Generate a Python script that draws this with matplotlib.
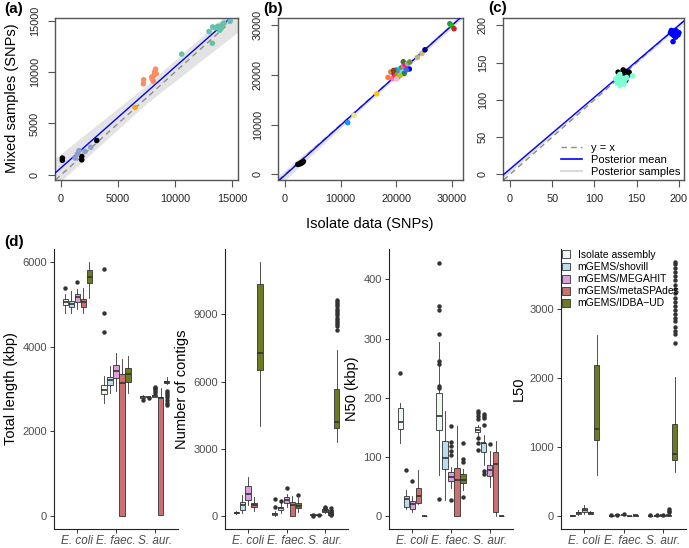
import numpy as np
import matplotlib as mpl
import matplotlib.pyplot as plt
from matplotlib.patches import Patch
from matplotlib.lines import Line2D

plt.rcParams['font.family'] = ['Liberation Sans', 'DejaVu Sans']

# ---------------------------------------------------------------------------
# Top row data: isolate vs mixed-sample SNP counts
# ---------------------------------------------------------------------------
a_x = [117, 117, 1815, 1815, 3130,
       1230, 1430, 1570, 2100, 2600,
       7220, 7250, 7950, 8100, 8150, 8200, 8290, 8350, 8000,
       6490,
       10580, 12980, 13270, 13300, 13550, 13750, 14000, 14150, 14300, 14820, 13900]
a_y = [1640, 1420, 1800, 1470, 3350,
       1640, 2030, 2360, 2290, 2690,
       8860, 9250, 9510, 9080, 9680, 10010, 10280, 9840, 9300,
       6560,
       11740, 13940, 12790, 14380, 14300, 14450, 14200, 14600, 14750, 14930, 14050]
a_col = ['black'] * 5 + ['#8DA0CB'] * 5 + ['#FC8D62'] * 9 + ['#FFA500'] + ['#66C2A5'] * 11

b_x = [2300, 2600, 2900, 3100, 3300, 2800, 3200,
       11250, 12390, 16460,
       18500, 19000, 19300, 19600, 19800, 20000, 20200, 20300, 20500, 20700, 20800, 21000,
       21100, 21300, 21400, 21600, 21240, 22000, 22400, 22320, 19500, 20000, 20600, 21800,
       23760, 24600, 25130, 29600, 29900, 30350]
b_y = [2000, 2100, 2200, 2400, 2600, 2300, 2500,
       10400, 11860, 16200,
       19500, 20600, 19300, 20200, 19800, 21000, 20400, 19600, 20800, 21300, 20000, 21500,
       20600, 21800, 20300, 22000, 22660, 22300, 22600, 21200, 20900, 19200, 19900, 21000,
       23520, 24320, 25060, 30300, 29900, 29300]
b_col = ['black'] * 7 + ['#1E90FF', '#EEE685', '#FFC125',
         '#FF7F24', '#CD853F', '#FF69B4', '#9400D3', '#FF4500', '#1E90FF', '#32CD32', '#FF6347',
         '#BA55D3', '#00CED1', '#FFA07A', '#6B8E23', '#87CEFA', '#DA70D6', '#228B22', '#FF1493',
         '#556B2F', '#8FBC8F', '#6E8B3D', '#0000FF', '#8B4513', '#FFB6C1', '#9ACD32', '#4169E1',
         '#BDB76B', '#CDBE70', '#00008B', '#2E8B57', '#00CD00', '#CD2626']

c_x = [128, 131, 133, 134, 136, 137, 138, 140, 141, 135,
       125, 127, 128, 129, 130, 131, 132, 133, 135, 136, 138, 145, 130,
       190, 192, 193, 194, 195, 196, 197, 198, 199, 200, 193, 196, 191]
c_y = [137, 132, 128, 140, 135, 126, 138, 133, 137, 131,
       128, 122, 131, 125, 119, 127, 123, 129, 121, 126, 130, 132, 134,
       190, 188, 192, 186, 190, 193, 188, 191, 187, 190, 178, 184, 193]
c_col = ['black'] * 10 + ['#7FFFD4'] * 13 + ['#0000FF'] * 13

# posterior mean (intercept, slope) and posterior-sample envelope
a_mean = (700, 0.98)
b_mean = (-150, 1.005)
c_mean = (7, 0.965)
a_band_x, a_band_lo, a_band_hi = [-530, 7500, 15520], [-1100, 6950, 13900], [1600, 8700, 16600]
b_band_x, b_band_lo, b_band_hi = [-1260, 15000, 31960], [-2500, 14550, 31400], [-300, 15150, 32700]
c_band_x, c_band_lo, c_band_hi = [-8.3, 100, 206], [-5, 102, 202], [3, 105, 209]

# ---------------------------------------------------------------------------
# Bottom row data: assembly statistics, (whislo, q1, med, q3, whishi) per species
# ---------------------------------------------------------------------------
species = ['E. coli', 'E. faec.', 'S. aur.']
methods = ['Isolate assembly', 'mGEMS/shovill', 'mGEMS/MEGAHIT', 'mGEMS/metaSPAdes', 'mGEMS/IDBA\u2212UD']
method_colors = ['#EEF8F0', '#B9DDEE', '#D9A0DB', '#CC6F6F', '#6B7A23']

length_box = [
    [(4800, 4990, 5060, 5130, 5250), (2680, 2880, 2980, 3090, 3300), (2760, 2790, 2810, 2830, 2850)],
    [(4780, 4940, 5010, 5080, 5300), (2900, 3090, 3210, 3290, 3550), (2790, 2800, 2810, 2820, 2830)],
    [(4880, 5050, 5170, 5250, 5350), (2950, 3250, 3430, 3560, 3850), (2800, 2810, 2830, 2850, 2880)],
    [(4800, 4940, 5050, 5120, 5380), (0, 10, 3150, 3360, 3700), (30, 40, 2790, 2810, 3030)],
    [(5150, 5510, 5640, 5810, 6000), (2900, 3170, 3350, 3500, 3780), (3120, 3140, 3170, 3200, 3280)],
]
length_out = [
    [[5380], [4350, 4800, 5840], [2740]],
    [[], [], [2780]],
    [[5520], [], [2900, 2950, 3000, 3030, 3050]],
    [[], [], []],
    [[], [], [2620, 2680, 2740, 2800, 2850, 2900, 2950]],
]

contig_box = [
    [(100, 140, 160, 180, 220), (30, 60, 100, 150, 250), (40, 50, 60, 70, 80)],
    [(130, 300, 500, 645, 935), (150, 280, 350, 430, 690), (40, 50, 60, 70, 90)],
    [(500, 715, 980, 1330, 1740), (400, 600, 747, 865, 1000), (150, 200, 250, 320, 380)],
    [(250, 395, 500, 600, 850), (0, 10, 500, 645, 900), (20, 60, 150, 300, 380)],
    [(4010, 6500, 7260, 10330, 11330), (200, 350, 470, 600, 800), (3310, 3950, 4210, 5650, 7410)],
]
contig_out = [
    [[], [420, 790], [30, 60]],
    [[], [700], [40]],
    [[], [1270], [350, 380, 420]],
    [[], [], [50, 100, 200, 350]],
    [[], [950], [8300, 8450, 8550, 8650, 8750, 8850, 8950, 9050, 9150, 9250, 9350, 9450, 9550, 9650]],
]

n50_box = [
    [(123, 148, 160, 183, 191), (70, 146, 170, 209, 295), (135, 142, 146, 150, 155)],
    [(13, 15, 30, 35, 44), (27, 80, 98, 127, 178), (86, 108, 123, 124.5, 138)],
    [(8, 12, 21, 25.5, 35), (48, 60, 66, 74.5, 84), (50, 68, 79, 87, 110)],
    [(20, 23, 35, 48, 79), (0, 0.5, 61, 82, 152), (0, 8, 89, 108, 127)],
    [(0.3, 0.8, 1, 1.3, 2), (45, 56, 62, 71, 80), (0.3, 0.8, 1, 1.3, 2)],
]
n50_out = [
    [[242], [30, 217, 220, 258, 263, 308, 348, 355, 428], [112, 124, 132, 165, 170, 175, 178]],
    [[79], [], [72, 76, 155, 166, 170, 173]],
    [[59], [27, 103, 111, 119, 125, 152], [122]],
    [[], [], []],
    [[], [33, 92, 97, 124], []],
]

l50_box = [
    [(5, 8, 10, 12, 15), (5, 8, 10, 12, 15), (3, 5, 7, 9, 12)],
    [(20, 35, 45, 60, 90), (10, 12, 15, 18, 22), (5, 8, 10, 12, 15)],
    [(40, 67, 86, 124, 170), (15, 18, 20, 23, 27), (8, 10, 12, 15, 20)],
    [(30, 40, 50, 60, 75), (3, 4, 5, 6, 8), (5, 8, 12, 20, 40)],
    [(605, 1100, 1271, 2186, 2624), (8, 10, 12, 14, 16), (648, 814, 900, 1343, 2019)],
]
l50_out = [
    [[], [20], [15]],
    [[], [25], [20]],
    [[], [30], [25]],
    [[], [], [60, 80, 100]],
    [[], [], [2505, 2640, 2690, 2740, 2830, 2880, 2930, 2990, 3050, 3110, 3170, 3230,
              3290, 3350, 3420, 3480, 3540, 3600, 3650, 3690]],
]

# ---------------------------------------------------------------------------
# Figure
# ---------------------------------------------------------------------------
W, H = 689, 548
fig = plt.figure(figsize=(W / 100, H / 100), dpi=100)


def px_axes(left, right, top, bottom):
    return fig.add_axes([left / W, 1 - bottom / H, (right - left) / W, (bottom - top) / H])


def r_style(ax, xlim, ylim, xticks, yticks):
    ax.set_xlim(xlim)
    ax.set_ylim(ylim)
    ax.set_xticks(xticks)
    ax.set_yticks(yticks)
    for sp in ax.spines.values():
        sp.set_color('#555555')
        sp.set_linewidth(1.0)
    ax.tick_params(direction='out', length=5, width=0.8, color='#555555', labelsize=7.8,
                   pad=5, labelcolor='#222222')
    ax.tick_params(axis='y', labelrotation=90, pad=6)
    for lab in ax.get_yticklabels():
        lab.set_va('center')


def scatter_panel(ax, x, y, col, mean, bx, blo, bhi):
    ax.fill_between(bx, blo, bhi, color='#E3E3E3', lw=0, zorder=1)
    ax.axline((0, 0), slope=1, ls=(0, (4, 3)), color='#8C8C8C', lw=1, zorder=2)
    ax.axline((0, mean[0]), slope=mean[1], color='#0000FF', lw=1, zorder=3)
    ax.scatter(x, y, c=col, s=16, edgecolors='none', zorder=4)


ax_a = px_axes(55, 238, 18, 180)
scatter_panel(ax_a, a_x, a_y, a_col, a_mean, a_band_x, a_band_lo, a_band_hi)
r_style(ax_a, (-530, 15520), (-490, 15250), [0, 5000, 10000, 15000], [0, 5000, 10000, 15000])

ax_b = px_axes(278, 463, 18, 180)
scatter_panel(ax_b, b_x, b_y, b_col, b_mean, b_band_x, b_band_lo, b_band_hi)
r_style(ax_b, (-1260, 31960), (-1140, 31460), [0, 10000, 20000, 30000], [0, 10000, 20000, 30000])

ax_c = px_axes(503, 684, 18, 180)
scatter_panel(ax_c, c_x, c_y, c_col, c_mean, c_band_x, c_band_lo, c_band_hi)
r_style(ax_c, (-8.3, 206), (-7.6, 209.7), [0, 50, 100, 150, 200], [0, 50, 100, 150, 200])
leg_handles = [Line2D([], [], ls=(0, (4, 3)), color='#8C8C8C', lw=1),
               Line2D([], [], color='#0000FF', lw=1.2),
               Line2D([], [], color='#D9D9D9', lw=1.5)]
ax_c.legend(leg_handles, ['y = x', 'Posterior mean', 'Posterior samples'], loc='lower right',
            frameon=False, fontsize=8, handlelength=1.9, handletextpad=0.8, labelspacing=0.15,
            borderaxespad=0.1, borderpad=0.2)

fig.text(12 / W, 1 - 98 / H, 'Mixed samples (SNPs)', rotation=90, ha='center', va='center', fontsize=10.5)
fig.text(370 / W, 1 - 224 / H, 'Isolate data (SNPs)', ha='center', va='center', fontsize=10.5)
fig.text(4 / W, 1 - 9 / H, '(a)', ha='left', va='center', fontsize=11, fontweight='bold')
fig.text(263 / W, 1 - 9 / H, '(b)', ha='left', va='center', fontsize=11, fontweight='bold')
fig.text(488 / W, 1 - 8 / H, '(c)', ha='left', va='center', fontsize=11, fontweight='bold')
fig.text(4 / W, 1 - 242 / H, '(d)', ha='left', va='center', fontsize=11, fontweight='bold')

# ---------------------------------------------------------------------------
# Bottom row boxplots
# ---------------------------------------------------------------------------
offsets = [-0.31, -0.155, 0, 0.155, 0.31]
edge = '#333333'


def box_panel(ax, boxes, outs, ylim, yticks, ylabel):
    for m in range(len(methods)):
        stats = []
        for s in range(len(species)):
            lo, q1, med, q3, hi = boxes[m][s]
            stats.append(dict(whislo=lo, q1=q1, med=med, q3=q3, whishi=hi, fliers=outs[m][s]))
        pos = [s + 1 + offsets[m] for s in range(len(species))]
        ax.bxp(stats, positions=pos, widths=0.135, patch_artist=True, showcaps=False,
               manage_ticks=False,
               boxprops=dict(facecolor=method_colors[m], edgecolor=edge, lw=0.6),
               whiskerprops=dict(color=edge, lw=0.6),
               medianprops=dict(color=edge, lw=1.2),
               flierprops=dict(marker='o', markerfacecolor=edge, markeredgecolor='none', markersize=3.2))
    ax.set_xlim(0.4, 3.6)
    ax.set_ylim(ylim)
    ax.set_yticks(yticks)
    ax.set_xticks([1, 2, 3])
    ax.set_xticklabels(species, fontstyle='italic')
    ax.spines['top'].set_visible(False)
    ax.spines['right'].set_visible(False)
    for sp in ('left', 'bottom'):
        ax.spines[sp].set_color('#222222')
        ax.spines[sp].set_linewidth(0.8)
    ax.tick_params(length=3, width=0.7, color='#333333', labelsize=8, labelcolor='#4D4D4D', pad=2)
    ax.tick_params(axis='x', pad=1, labelsize=8.5)
    ax.set_ylabel(ylabel, fontsize=10.5, labelpad=3)


top_d, bot_d = 249, 529
ax_d1 = px_axes(54, 178, top_d, bot_d)
box_panel(ax_d1, length_box, length_out, (-300, 6300), [0, 2000, 4000, 6000], 'Total length (kbp)')
ax_d2 = px_axes(225, 348, top_d, bot_d)
box_panel(ax_d2, contig_box, contig_out, (-566, 11900), [0, 3000, 6000, 9000], 'Number of contigs')
ax_d3 = px_axes(389, 513, top_d, bot_d)
box_panel(ax_d3, n50_box, n50_out, (-21.5, 451.5), [0, 100, 200, 300, 400], 'N50 (kbp)')
ax_d4 = px_axes(561, 686, top_d, bot_d)
box_panel(ax_d4, l50_box, l50_out, (-184, 3874), [0, 1000, 2000, 3000], 'L50')

leg_patches = [Patch(facecolor=c, edgecolor=edge, lw=0.6) for c in method_colors]
ax_d4.legend(leg_patches, methods, loc='upper left', bbox_to_anchor=(0.0, 1.0), frameon=False,
             fontsize=7.5, handlelength=0.8, handleheight=0.8, handletextpad=0.7,
             labelspacing=0.2, borderaxespad=0, borderpad=0.1)

plt.savefig('out.png', dpi=100)
